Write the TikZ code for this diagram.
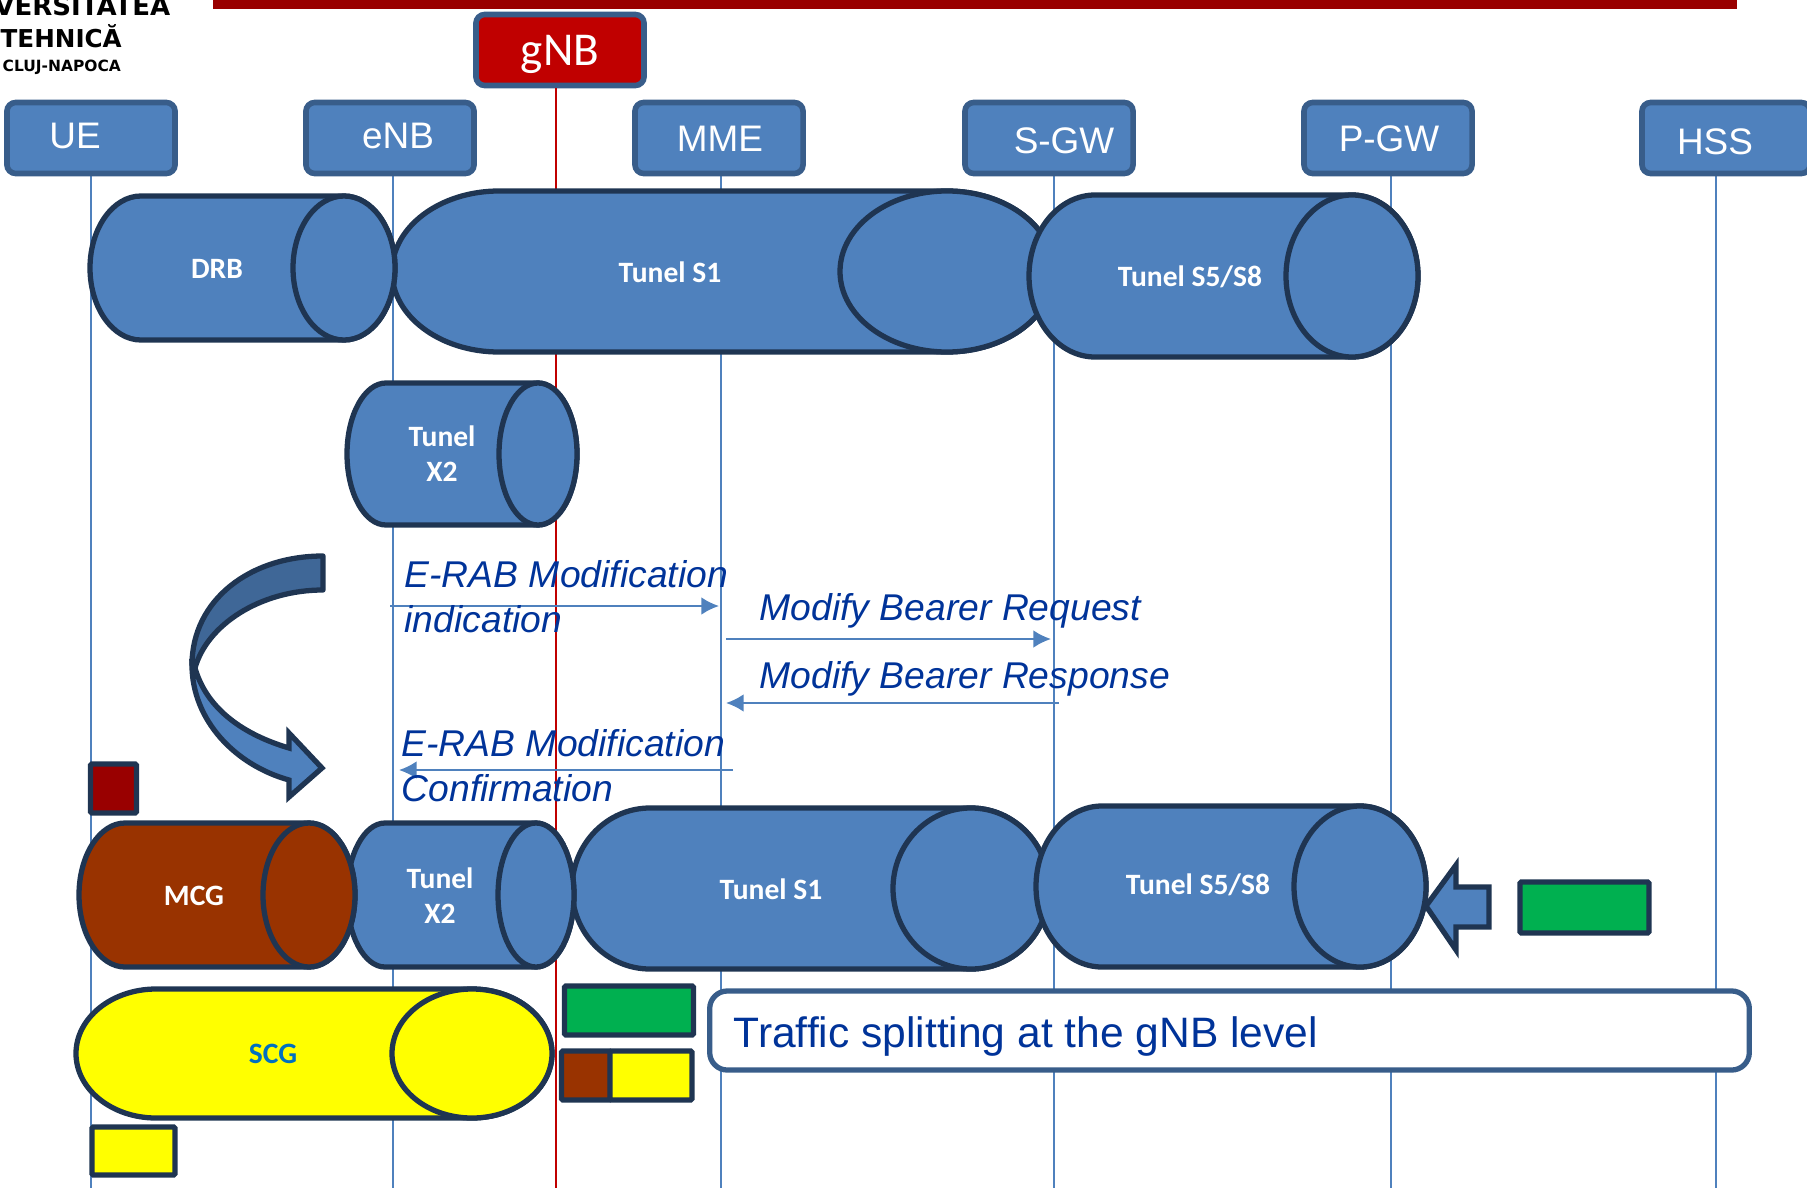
\documentclass[tikz,border=0pt]{standalone}
\usepackage{fontspec}
\setmainfont{Liberation Sans}
\newfontfamily\calibri{Carlito}
\newfontfamily\logofont{DejaVu Sans}
\usetikzlibrary{arrows.meta}

\definecolor{boxblue}{HTML}{4F81BD}
\definecolor{boxedge}{HTML}{385D8A}
\definecolor{bentdark}{HTML}{3F6797}
\definecolor{tubeedge}{HTML}{1F3552}
\definecolor{msgblue}{HTML}{003399}
\definecolor{brickred}{HTML}{993300}
\definecolor{barred}{HTML}{990000}
\definecolor{gnbred}{HTML}{C00000}
\definecolor{pktgreen}{HTML}{00B050}
\definecolor{pktyellow}{HTML}{FFFF00}
\definecolor{scgblue}{HTML}{0070C0}

\tikzset{
    hostbox/.style={draw=boxedge, fill=boxblue, line width=1.6pt, rounded corners=2.5pt,
        minimum width=1.68cm, minimum height=0.71cm, inner sep=0pt},
    hostname/.style={text=white, font=\fontsize{10.5}{12}\selectfont, inner sep=0pt},
    lifeline/.style={boxblue, line width=0.55pt},
    tube/.style={draw=tubeedge, line width=1.5pt},
    tubename/.style={text=white, font=\calibri\bfseries\fontsize{8.4}{10}\selectfont, align=center, inner sep=0pt},
    block/.style={draw=tubeedge, line width=1.5pt, rounded corners=0.4pt, inner sep=0pt},
    msg/.style={boxblue, line width=0.6pt, -{Latex[length=5pt,width=5pt]}},
    msgname/.style={text=msgblue, font=\itshape\fontsize{10.6}{12.8}\selectfont, align=left, inner sep=0pt, anchor=west},
    logoname/.style={inner sep=0pt}
}

% x from, x to, y top, y bottom, end radius, colour
\newcommand{\tubeshape}[6]{
    \pgfmathsetmacro{\ry}{(#4-#3)/2}
    \pgfmathsetmacro{\xl}{#1+#5}
    \pgfmathsetmacro{\xr}{#2-#5}
    \pgfmathsetmacro{\ym}{(#3+#4)/2}
    \draw[tube, fill=#6] (\xl,#3) -- (\xr,#3)
        arc[start angle=-90, end angle=90, x radius=#5, y radius=\ry]
        -- (\xl,#4)
        arc[start angle=90, end angle=270, x radius=#5, y radius=\ry] -- cycle;
    \draw[tube, fill=#6] (\xr,\ym) ellipse [x radius=#5, y radius=\ry];
}

\begin{document}
\begin{tikzpicture}[x=0.01cm, y=-0.01cm]
    \useasboundingbox (0,0) rectangle (1807,1197);

    % logo and title bar
    \node[logoname, anchor=east, font=\logofont\bfseries\fontsize{7.4}{9}\selectfont] (logoa) at (171,6) {VERSITATEA};
    \node[logoname, anchor=west, font=\logofont\bfseries\fontsize{7}{9}\selectfont] (logob) at (0,36) {TEHNICĂ};
    \node[logoname, anchor=west, font=\logofont\bfseries\fontsize{4.4}{6}\selectfont] (logoc) at (2,67) {CLUJ-NAPOCA};
    \fill[barred] (213,0) rectangle (1737,9);

    % network elements
    \foreach \n/\bx/\lx/\tx/\ty/\t in {ue/91/91/75/136/UE, enb/390/393/398/136/eNB, mme/719/721/720/139/MME,
            sgw/1049/1054/1064/141/S-GW, pgw/1388/1391/1389/139/P-GW, hss/1726/1716/1715/142/HSS} {
        \coordinate (\n-bot) at (\lx,1188);
        \draw[lifeline] (\n-bot |- 0,175) -- (\n-bot);
        \node[hostbox] (\n) at (\bx,138) {};
        \node[hostname] (\n-txt) at (\tx,\ty) {\t};
    }

    \coordinate (gnb-bot) at (556,1188);
    \node[hostbox, fill=gnbred, minimum height=0.71cm] (gnb) at (560,50) {};
    \draw[gnbred, line width=0.6pt] (gnb-bot |- gnb.south) -- (gnb-bot);
    \node[text=white, font=\calibri\fontsize{13.4}{15}\selectfont, inner sep=0pt] (gnb-txt) at (560,54) {gNB};

    % upper tunnels
    \tubeshape{392}{1054}{191}{352}{107}{boxblue}
    \tubeshape{90}{395}{196}{340}{51}{boxblue}
    \tubeshape{1029}{1418}{195}{357}{66}{boxblue}
    \tubeshape{347}{577}{383}{525}{39}{boxblue}
    \node[tubename] (drb) at (217,269) {DRB};
    \node[tubename] (sone) at (670,272) {Tunel S1};
    \node[tubename] (sfive) at (1190,277) {Tunel S5/S8};
    \node[tubename] (xtwo) at (442,454) {Tunel\\X2};

    % bent arrow
    \draw[tube, fill=boxblue] (192,665) .. controls (192,720) and (235,765) .. (289,780)
        -- (289,797) -- (322,768) -- (289,733) -- (289,748)
        .. controls (245,735) and (207,710) .. (195,668) -- cycle;
    \draw[tube, fill=bentdark, line join=round] (323,556) .. controls (250,556) and (192,600) .. (192,665)
        -- (195,668) .. controls (207,625) and (260,590) .. (323,590) -- cycle;

    % messages
    \coordinate (ma) at (390,606);
    \coordinate (mb) at (719,606);
    \coordinate (mc) at (726,639);
    \coordinate (md) at (1051,639);
    \coordinate (me) at (1059,703);
    \coordinate (mf) at (726,703);
    \coordinate (mg) at (733,770);
    \coordinate (mh) at (399,770);
    \draw[msg] (ma) -- (mb);
    \draw[msg] (mc) -- (md);
    \draw[msg] (me) -- (mf);
    \draw[msg] (mg) -- (mh);
    \node[msgname] (erabind) at (404,597) {E-RAB Modification\\indication};
    \node[msgname] (modreq) at (759,611) {Modify Bearer Request};
    \node[msgname] (modresp) at (759,679) {Modify Bearer Response};
    \node[msgname] (erabconf) at (401,766) {E-RAB Modification\\Confirmation};

    % lower tunnels
    \tubeshape{572}{1049}{808}{969}{78}{boxblue}
    \tubeshape{347}{574}{823}{967}{38}{boxblue}
    \tubeshape{79}{355}{823}{967}{46}{brickred}
    \tubeshape{1036}{1426}{806}{967}{66}{boxblue}
    \tubeshape{76}{552}{989}{1118}{80}{pktyellow}
    \node[tubename] (mcg) at (194,896) {MCG};
    \node[tubename] (xtwob) at (440,896) {Tunel\\X2};
    \node[tubename] (soneb) at (771,889) {Tunel S1};
    \node[tubename] (sfiveb) at (1198,885) {Tunel S5/S8};
    \node[tubename, text=scgblue] (scg) at (273,1054) {SCG};

    % packets
    \node[block, fill=barred, minimum width=0.46cm, minimum height=0.49cm] (pktred) at (113.5,788.5) {};
    \node[block, fill=pktgreen, minimum width=1.29cm, minimum height=0.49cm] (pktgrn) at (629,1010.5) {};
    \node[block, fill=brickred, minimum width=0.49cm, minimum height=0.49cm] (pktbrown) at (586,1075.5) {};
    \node[block, fill=pktyellow, minimum width=0.82cm, minimum height=0.49cm] (pktyel) at (651,1075.5) {};
    \node[block, fill=pktyellow, minimum width=0.83cm, minimum height=0.48cm] (pktsmall) at (133.5,1151) {};
    \node[block, fill=pktgreen, minimum width=1.29cm, minimum height=0.51cm] (pktright) at (1584.5,907.5) {};
    \draw[tube, fill=boxblue] (1426,906) -- (1456,865) -- (1456,887) -- (1489,887)
        -- (1489,927) -- (1456,927) -- (1456,950) -- cycle;

    % note
    \node[draw=boxedge, fill=white, line width=1.5pt, rounded corners=5pt, minimum width=10.39cm,
        minimum height=0.79cm] (note) at (1229.5,1030.5) {};
    \node[text=msgblue, font=\fontsize{12.1}{14}\selectfont, inner sep=0pt, anchor=west] (note-txt) at (733,1036)
        {Traffic splitting at the gNB level};
\end{tikzpicture}
\end{document}
